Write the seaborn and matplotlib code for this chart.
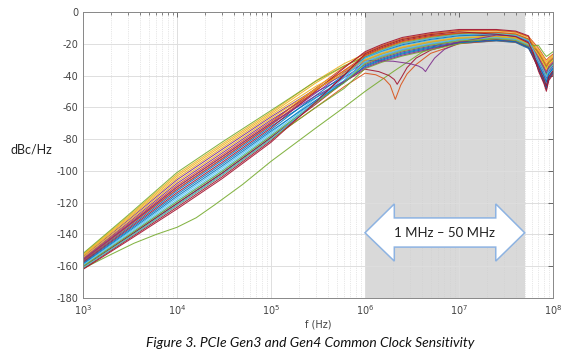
import numpy as np
import pandas as pd
import seaborn as sns
import matplotlib.pyplot as plt
import matplotlib.transforms as mtransforms
from matplotlib.patches import Polygon
from matplotlib.ticker import LogLocator, NullFormatter

# common frequency grid (Hz) for most traces
freq_hz = [1e3, 3e3, 1e4, 3e4, 1e5, 3e5, 6e5, 1e6, 1.5e6, 2.5e6,
           5e6, 1e7, 2.5e7, 4e7, 5.5e7, 7e7, 8e7, 8.5e7, 9e7, 1e8]

# dBc/Hz, one list per trace
trace_00 = [-160.5, -141.6, -120.6, -101.6, -79, -56.9, -43.2, -30.5, -26.5, -22.5, -19, -16.5, -15.5, -16.5, -20, -36.3, -44, -48.7, -42.3, -38.5]
trace_01 = [-155.5, -133.6, -109.1, -90.1, -69, -48.7, -37.1, -28.9, -24.4, -19.9, -16.6, -14.3, -13.7, -14.7, -18, -27.8, -34, -37.2, -33.8, -31]
trace_02 = [-153, -129.6, -103.3, -84.3, -64, -44.6, -34, -27.6, -23.1, -18.6, -15.4, -13.2, -12.8, -13.8, -17, -26.1, -32, -34.9, -32.1, -29.5]
trace_03 = [-154, -131.2, -105.6, -86.6, -66, -48.4, -39.4, -31.8, -27.8, -23.8, -20.2, -17.6, -16.4, -17.4, -21, -29.5, -36, -39.5, -35.5, -32.5]
trace_05 = [-159, -139.2, -117.1, -98.1, -76, -54.2, -40.9, -29.2, -25.2, -21.2, -17.8, -15.4, -14.6, -15.6, -19, -32.9, -40, -44.1, -38.9, -35.5]
trace_06 = [-161.5, -143.2, -122.9, -103.9, -81, -56.2, -39.9, -27, -22.5, -18, -14.8, -13.5, -15.5, -17, -21, -31.2, -38, -41.8, -37.2, -34]
trace_07 = [-157, -136, -112.5, -93.5, -72, -53.8, -43.9, -34.4, -30.4, -26.4, -22.6, -19.8, -18.2, -19.2, -23, -34.6, -42, -46.4, -40.6, -37]
trace_09 = [-152.5, -128.8, -102.2, -83.2, -63, -43.3, -32.5, -26.3, -21.8, -17.3, -14.2, -12.1, -11.9, -12.9, -16, -24.4, -30, -32.6, -30.4, -28]
trace_10 = [-155, -132.8, -107.9, -88.9, -68, -50.4, -41.3, -33.1, -29.1, -25.1, -21.4, -18.7, -17.3, -18.3, -22, -31.2, -38, -41.8, -37.2, -34]
trace_11 = [-152, -128, -101, -82, -62, -43.5, -33.9, -28.3, -23.8, -19.3, -16, -13.8, -13.3, -14.3, -17.5, -26.1, -32, -34.9, -32.1, -29.5]
trace_12 = [-160, -140.8, -119.4, -100.4, -78, -56.8, -43.9, -31.8, -27.8, -23.8, -20.2, -17.6, -16.4, -17.4, -21, -33.8, -41, -45.3, -39.8, -36.3]
trace_14 = [-158, -137.6, -114.8, -95.8, -74, -52.5, -39.6, -28.6, -24.6, -20.6, -17.2, -14.9, -14.2, -15.2, -18.5, -35.5, -43, -47.6, -41.5, -37.8]
trace_15 = [-156, -134.4, -110.2, -91.2, -70, -47.9, -34.6, -25.7, -21.2, -16.7, -13.6, -11.6, -11.5, -12.5, -15.5, -22.7, -28, -30.3, -28.7, -26.5]
trace_16 = [-153.5, -130.4, -104.5, -85.5, -65, -46.8, -37.3, -29.9, -25.9, -21.9, -18.4, -16, -15.1, -16.1, -19.5, -27, -33, -36.1, -33, -30.3]
trace_18 = [-161, -142.4, -121.7, -102.7, -80, -60, -48.1, -35.7, -31.7, -27.7, -23.8, -20, -16, -16.5, -20.5, -29.5, -36, -39.5, -35.5, -32.5]
trace_19 = [-159.5, -140, -118.3, -99.3, -77, -55.8, -43, -31.2, -27.2, -23.2, -19.6, -17.1, -16, -17, -20.5, -32.1, -39, -43, -38.1, -34.8]
trace_20 = [-157.5, -136.8, -113.7, -94.7, -73, -49.7, -35.2, -25, -20.5, -16, -13, -11, -11, -12, -15, -37.2, -45, -49.9, -43.2, -39.3]
trace_21 = [-158.5, -138.4, -116, -97, -75, -55.6, -44.5, -33.8, -29.8, -25.8, -22, -19.3, -17.8, -18.8, -22.5, -32.9, -40, -44.1, -38.9, -35.5]
trace_22 = [-156.5, -135.2, -111.4, -92.4, -71, -49.5, -36.7, -27.6, -23.1, -18.6, -15.4, -13.2, -12.8, -13.8, -17, -25.3, -31, -33.8, -31.3, -28.8]
trace_23 = [-154.5, -132, -106.8, -87.8, -67, -48.5, -38.6, -30.5, -26.5, -22.5, -19, -16.5, -15.5, -16.5, -20, -23.6, -29, -31.5, -29.6, -27.3]
trace_24 = [-156, -134.4, -110.2, -91.2, -70, -52.7, -43.7, -35.1, -31.1, -27.1, -23.2, -19, -14.5, -15, -19, -28.7, -35, -38.4, -34.7, -31.8]
trace_25 = [-160, -140.8, -119.4, -100.4, -78, -57.1, -44.5, -32.5, -28.5, -24.5, -20.8, -18.2, -16.9, -17.9, -21.5, -21, -26, -28, -27, -25]
trace_26 = [-161, -142.4, -121.7, -102.7, -80, -56.4, -41.3, -28.9, -24.4, -19.9, -16.6, -14.3, -13.7, -14.7, -18, -30.4, -37, -40.7, -36.4, -33.3]
trace_27 = [-162, -144, -124, -105, -82, -56.6, -39.7, -26.3, -21.8, -17.3, -14.2, -12.5, -14, -15.5, -19.5, -34.6, -42, -46.4, -40.6, -37]

# the low green outlier and the notched traces get their own frequency points
low_green_freq = [1e3, 2e3, 3.5e3, 6e3, 1e4, 1.6e4, 2.5e4, 5e4, 1e5, 3e5, 6e5, 1e6,
                  2e6, 4e6, 6e6, 1e7, 2.5e7, 4e7, 5.5e7, 7e7, 8e7, 8.5e7, 9e7, 1e8]
low_green_db = [-161.5, -152.5, -145.5, -140, -135.5, -129.5, -121.5, -108.5, -94, -73, -60, -50,
                -37.5, -25.5, -20.5, -17, -15, -16, -19, -30, -37, -40, -36, -33]
orange_dip_freq = [1e3, 3e3, 1e4, 3e4, 1e5, 3e5, 6e5, 1e6, 1.3e6, 1.6e6, 1.85e6, 2.1e6, 2.4e6,
                   2.8e6, 3.5e6, 5e6, 1e7, 2.5e7, 4e7, 5.5e7, 7e7, 8e7, 8.5e7, 9e7, 1e8]
orange_dip_db = [-161, -142.4, -121.7, -102.7, -80, -60, -47, -38.5, -39.5, -42, -46, -55, -46,
                 -39, -33, -26, -20, -18, -19, -22.5, -35, -43, -47, -41, -37.5]
brown_dip_freq = [1e3, 3e3, 1e4, 3e4, 1e5, 3e5, 6e5, 1e6, 1.4e6, 1.8e6, 2.05e6, 2.2e6, 2.45e6,
                  2.8e6, 3.5e6, 5e6, 1e7, 2.5e7, 4e7, 5.5e7, 7e7, 8e7, 8.5e7, 9e7, 1e8]
brown_dip_db = [-160.5, -141.5, -120.5, -101.5, -79, -58, -44, -36, -37.5, -40, -42.5, -45.5, -41,
                -35, -29, -24, -19, -17.5, -18.5, -22, -36, -44, -48, -42, -38]
purple_dip_freq = [1e3, 3e3, 1e4, 3e4, 1e5, 3e5, 6e5, 1e6, 2e6, 3e6, 3.7e6, 4.1e6, 4.4e6,
                   4.8e6, 5.5e6, 7e6, 1e7, 2.5e7, 4e7, 5.5e7, 7e7, 8e7, 8.5e7, 9e7, 1e8]
purple_dip_db = [-156.5, -134.8, -111.5, -92.5, -71, -51, -38, -30.5, -31, -32.5, -34, -35.5, -37.5,
                 -34, -29, -23.5, -19.5, -17.5, -18.5, -22, -33, -40, -43, -38, -35]

band_lo, band_hi = 1e6, 5e7

curves = [
    (freq_hz, trace_00), (freq_hz, trace_01), (freq_hz, trace_02), (freq_hz, trace_03),
    (low_green_freq, low_green_db), (freq_hz, trace_05), (freq_hz, trace_06), (freq_hz, trace_07),
    (orange_dip_freq, orange_dip_db), (freq_hz, trace_09), (freq_hz, trace_10), (freq_hz, trace_11),
    (freq_hz, trace_12), (brown_dip_freq, brown_dip_db), (freq_hz, trace_14), (freq_hz, trace_15),
    (freq_hz, trace_16), (purple_dip_freq, purple_dip_db), (freq_hz, trace_18), (freq_hz, trace_19),
    (freq_hz, trace_20), (freq_hz, trace_21), (freq_hz, trace_22), (freq_hz, trace_23),
    (freq_hz, trace_24), (freq_hz, trace_25), (freq_hz, trace_26), (freq_hz, trace_27),
]

rows = []
for i, (f, db) in enumerate(curves):
    for fv, dv in zip(f, db):
        rows.append(dict(trace=f"t{i:02d}", f=fv, db=dv))
df = pd.DataFrame(rows)

matlab = ["#0072BD", "#D95319", "#EDB120", "#7E2F8E", "#77AC30", "#4DBEEE", "#A2142F"]
order = [f"t{i:02d}" for i in range(len(curves))]
colors = [matlab[i % 7] for i in range(len(curves))]

sns.set_style("white")
plt.rcParams['axes.unicode_minus'] = False
plt.rcParams['font.family'] = ['DejaVu Sans']

fig = plt.figure(figsize=(5.67, 3.59), dpi=100)
ax = fig.add_axes([83 / 567, 61 / 359, 470 / 567, 286 / 359])

ax.axvspan(band_lo, band_hi, color="#d9d9d9", lw=0, zorder=0)
sns.lineplot(data=df, x="f", y="db", hue="trace", hue_order=order, palette=colors,
             estimator=None, sort=False, legend=False, linewidth=0.75, alpha=0.9, ax=ax)

ax.set_xscale("log")
ax.set_xlim(1e3, 1e8)
ax.set_ylim(-180, 0)
ax.set_yticks(np.arange(-180, 1, 20))
ax.xaxis.set_minor_locator(LogLocator(base=10, subs=np.arange(2, 10)))
ax.xaxis.set_minor_formatter(NullFormatter())

ax.set_axisbelow(True)
ax.grid(which="major", color="#dedede", lw=0.7)
ax.grid(which="minor", axis="x", color="#d0d0d0", lw=0.5, ls=":")
ax.tick_params(which="both", direction="in", top=True, right=True, colors="#555555",
               labelsize=7, labelcolor="#444444")
ax.tick_params(which="major", length=3.5, width=0.6)
ax.tick_params(which="minor", length=2, width=0.5)
for s in ax.spines.values():
    s.set_color("#888888")
    s.set_linewidth(0.7)

ax.set_xlabel("f (Hz)", fontsize=7, color="#444444", labelpad=2)
ax.set_ylabel("")
fig.text(31 / 567, 1 - 150 / 359, "dBc/Hz", fontsize=9, family=["Lato", "DejaVu Sans"],
         ha="center", va="center", color="#222222")

# double-headed arrow marking the band
trans = mtransforms.blended_transform_factory(ax.transData, ax.transAxes)
arrow_pts = [(band_lo, 0.228), (2.05e6, 0.329), (2.05e6, 0.280), (2.46e7, 0.280),
             (2.46e7, 0.329), (band_hi, 0.228), (2.46e7, 0.129), (2.46e7, 0.178),
             (2.05e6, 0.178), (2.05e6, 0.129)]
ax.add_patch(Polygon(arrow_pts, closed=True, transform=trans, facecolor="white",
                     edgecolor="#8db3e2", lw=1.1, zorder=5))
ax.text(7e6, 0.228, "1 MHz – 50 MHz", transform=trans, ha="center", va="center",
        fontsize=9.5, family=["Lato", "DejaVu Sans"], color="#222222", zorder=6)

fig.text(310 / 567, 16 / 359, "Figure 3. PCIe Gen3 and Gen4 Common Clock Sensitivity",
         ha="center", va="center", fontsize=10, style="italic",
         family=["Lato", "DejaVu Sans"], color="#111111")

fig.savefig("out.png", dpi=100)
